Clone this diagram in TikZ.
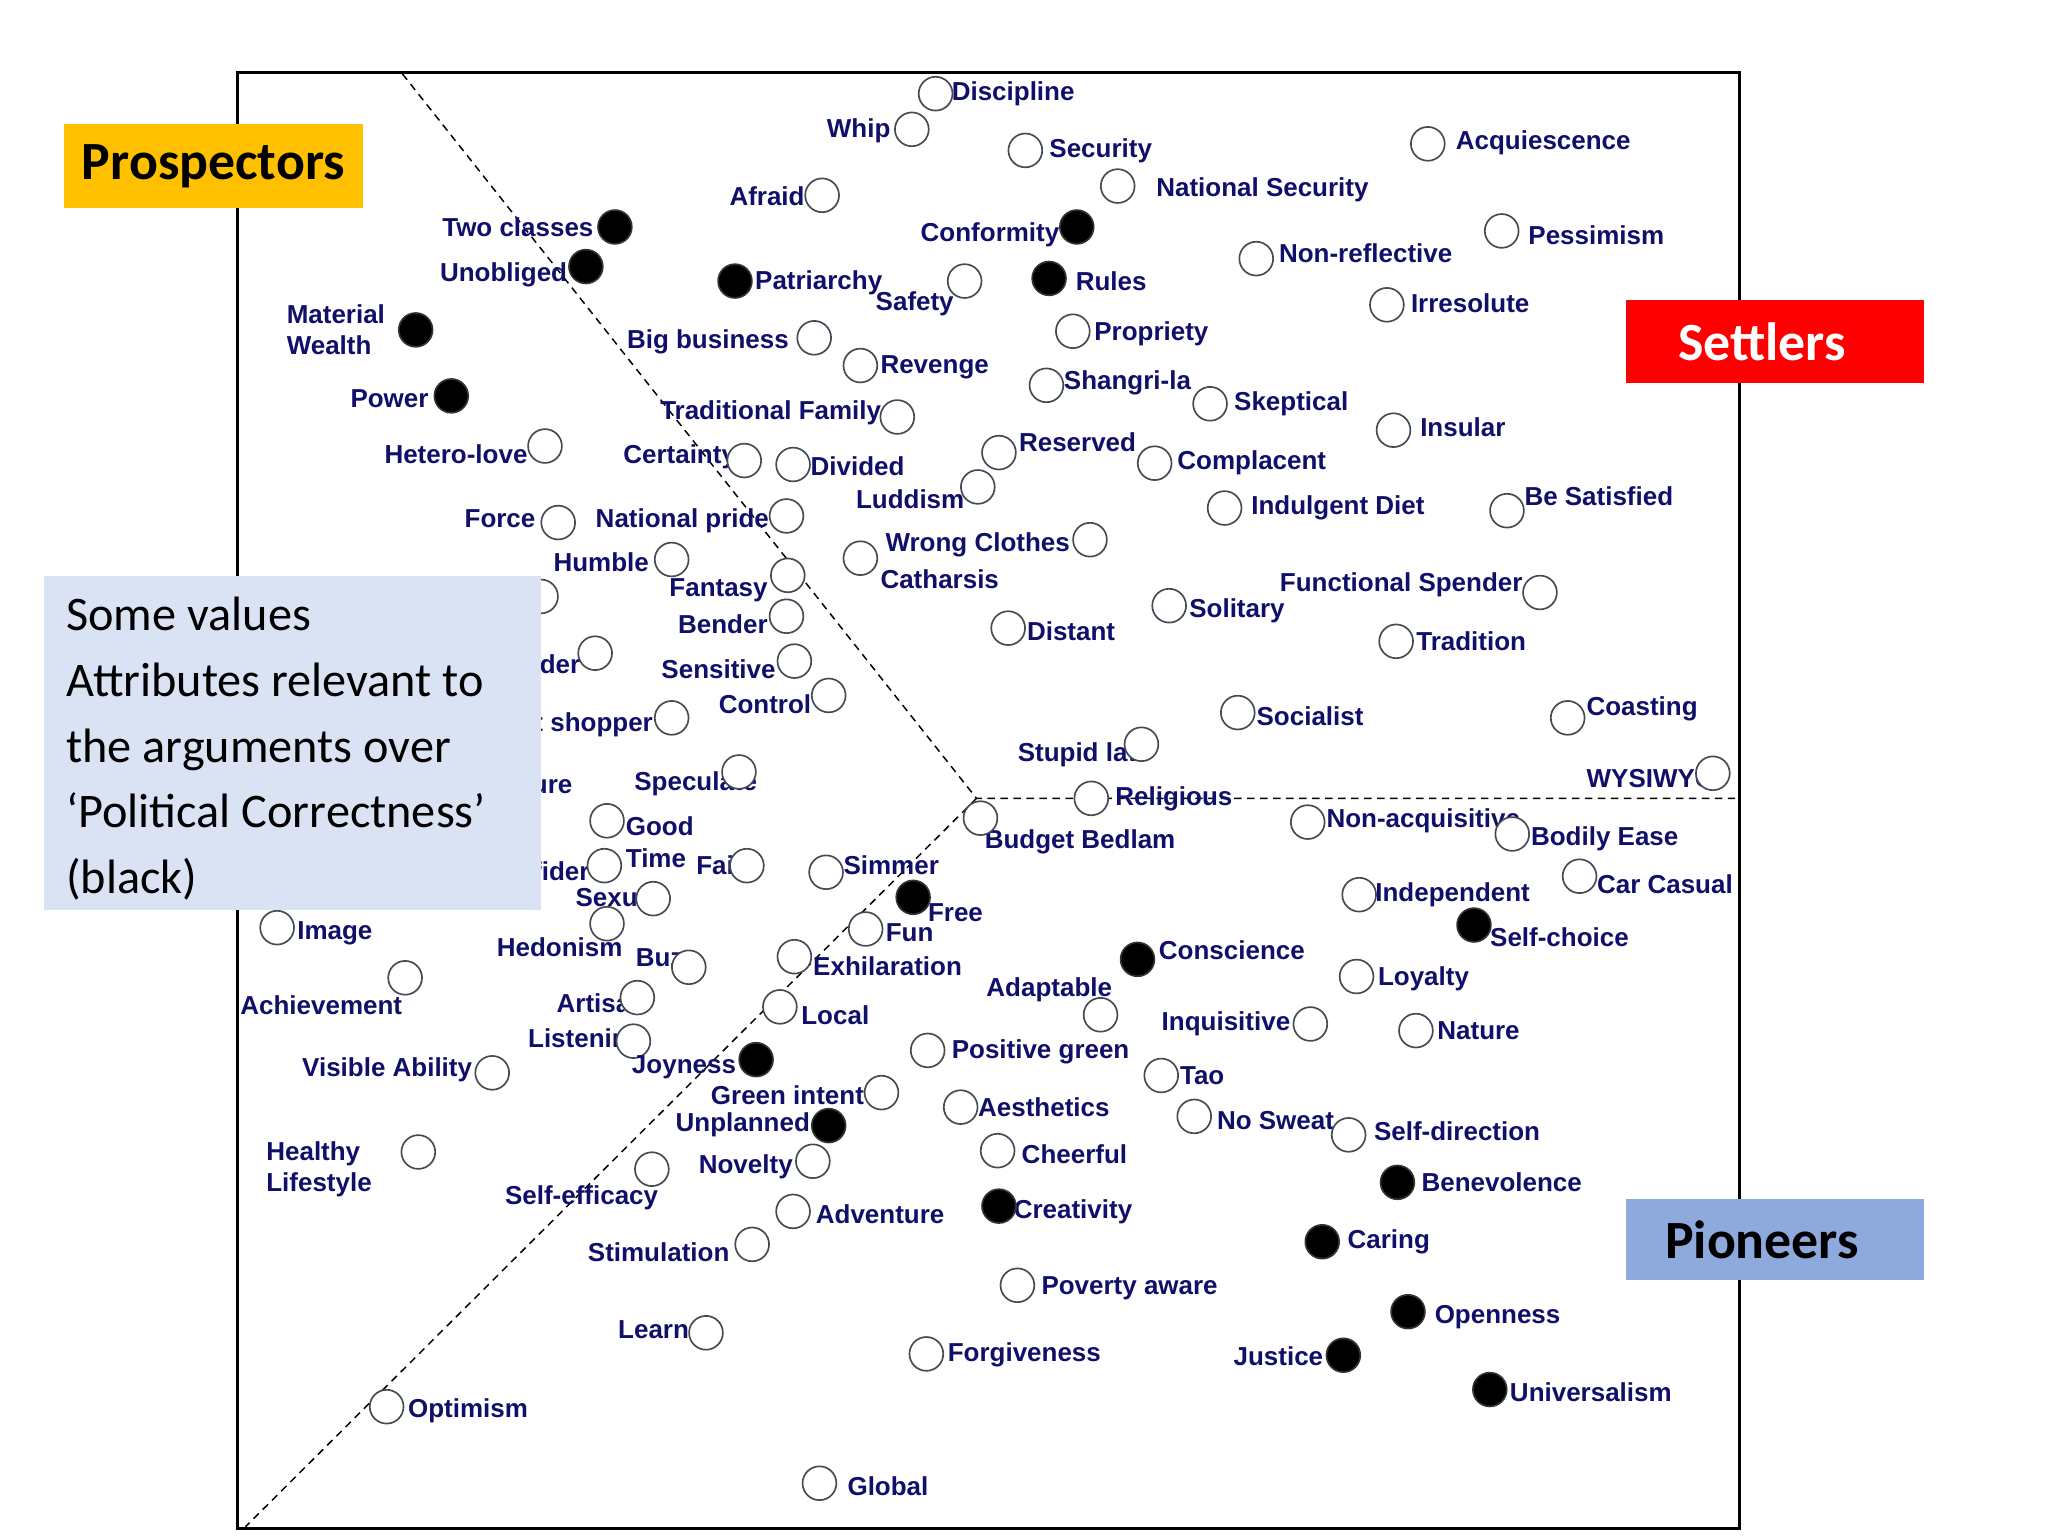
\documentclass[tikz,border=0pt]{standalone}
\usepackage{fontspec}
\setmainfont{Liberation Sans}
\newfontfamily\calfont{Carlito}
\definecolor{navy}{HTML}{10106A}
\definecolor{ring}{HTML}{454A55}
\definecolor{prosp}{HTML}{FFC000}
\definecolor{settl}{HTML}{FF0000}
\definecolor{pion}{HTML}{8EA9DB}
\definecolor{note}{HTML}{DAE3F3}
\tikzset{
  lab/.style={font=\fontsize{14}{16.5}\selectfont\bfseries, text=navy, inner sep=0pt},
  val/.style={circle, draw=ring, line width=0.9pt, fill=white, minimum size=0.64cm, inner sep=0pt},
  o/.style={val},
  f/.style={val, fill=black, draw=black!80},
  div/.style={dashed, line width=0.8pt, dash pattern=on 4pt off 3pt},
  tag/.style={font=\calfont\fontsize{29}{30}\selectfont\bfseries, inner sep=0pt, anchor=center}
}
% name, cx, cy, style, label options, lx, ly, text
\newcommand\V[8]{%
  \node[lab,#5] (#1-l) at (#6,#7) {#8};
  \node[#4] (#1) at (#2,#3) {};}
\begin{document}
\begin{tikzpicture}[x=0.025cm,y=-0.025cm]
\useasboundingbox[fill=white] (0,0) rectangle (1552,1164);
% frame
\draw[line width=1.6pt] (180,55) rectangle (1318,1158);
\coordinate (ctr) at (740,605);
\coordinate (top) at (305,56);
\coordinate (rgt) at (1316,605);
\coordinate (bot) at (186,1157);
\draw[div] (top) -- (ctr) -- (rgt);
\draw[div] (ctr) -- (bot);

\V{discipline}{709}{71}{o}{anchor=west}{721}{71}{Discipline}
\V{whip}{691}{98}{o}{anchor=east}{675}{99}{Whip}
\V{security}{777}{114}{o}{anchor=west}{795}{114}{Security}
\V{acq}{1082}{109}{o}{anchor=west}{1103}{108}{Acquiescence}
\V{afraid}{623}{148}{o}{anchor=east}{610}{149}{Afraid}
\V{natsec}{847}{141}{o}{anchor=west}{876}{144}{National Security}
\V{twocl}{466}{172}{f}{anchor=east}{450}{172}{Two classes}
\V{conf}{816}{172}{f}{anchor=east}{803}{178}{Conformity}
\V{pess}{1138}{175}{o}{anchor=west}{1158}{178}{Pessimism}
\V{nonref}{952}{196}{o}{anchor=west}{969}{192}{Non-reflective}
\V{unob}{444}{202}{f}{anchor=east}{430}{208}{Unobliged}
\V{patr}{557}{213}{f}{anchor=west}{572}{214}{Patriarchy}
\V{safety}{731}{213}{o}{anchor=east}{723}{230}{Safety}
\V{rules}{795}{211}{f}{anchor=west}{815}{213}{Rules}
\V{matw}{315}{250}{f}{anchor=east,align=left}{292}{250}{Material\\Wealth}
\V{irres}{1051}{231}{o}{anchor=west}{1069}{230}{Irresolute}
\V{bigb}{617}{256}{o}{anchor=east}{598}{259}{Big business}
\V{prop}{813}{251}{o}{anchor=west}{829}{253}{Propriety}
\V{rev}{652}{277}{o}{anchor=west}{667}{278}{Revenge}
\V{shang}{793}{292}{o}{anchor=west}{806}{290}{Shangri-la}
\V{power}{342}{300}{f}{anchor=east}{325}{302}{Power}
\V{skep}{917}{306}{o}{anchor=west}{935}{306}{Skeptical}
\V{tradf}{680}{316}{o}{anchor=east}{668}{313}{Traditional Family}
\V{insular}{1056}{326}{o}{anchor=west}{1076}{324}{Insular}
\V{reserved}{757}{343}{o}{anchor=west}{772}{335}{Reserved}
\V{hetero}{413}{338}{o}{anchor=east}{400}{344}{Hetero-love}
\V{cert}{564}{349}{o}{anchor=east}{558}{346}{Certainty}
\V{divided}{601}{352}{o}{anchor=west}{614}{353}{Divided}
\V{compl}{875}{351}{o}{anchor=west}{892}{351}{Complacent}
\V{ludd}{741}{369}{o}{anchor=east}{731}{378}{Luddism}
\V{besat}{1142}{387}{o}{anchor=west}{1155}{376}{Be Satisfied}
\V{indul}{928}{385}{o}{anchor=west}{948}{385}{Indulgent Diet}
\V{force}{423}{396}{o}{anchor=east}{406}{393}{Force}
\V{natpr}{596}{391}{o}{anchor=east}{583}{395}{National pride}
\V{wrong}{826}{409}{o}{anchor=east}{811}{413}{Wrong Clothes}
\V{humble}{509}{424}{o}{anchor=east}{492}{426}{Humble}
\V{cath}{652}{423}{o}{anchor=west}{667}{439}{Catharsis}
\V{fant}{597}{436}{o}{anchor=east}{582}{447}{Fantasy}
\V{funcs}{1167}{449}{o}{anchor=east}{1154}{443}{Functional Spender}
\V{solit}{886}{459}{o}{anchor=west}{901}{463}{Solitary}
\V{bender}{596}{467}{o}{anchor=east}{582}{473}{Bender}
\V{distant}{764}{476}{o}{anchor=west}{778}{478}{Distant}
\V{trad}{1058}{486}{o}{anchor=west}{1073}{486}{Tradition}
\V{provider}{451}{495}{o}{anchor=east}{440}{503}{Provider}
\V{sens}{602}{501}{o}{anchor=east}{588}{507}{Sensitive}
\V{control}{628}{527}{o}{anchor=east}{615}{534}{Control}
\V{social}{938}{540}{o}{anchor=west}{952}{543}{Socialist}
\V{coast}{1188}{544}{o}{anchor=west}{1202}{537}{Coasting}
\V{shopper}{509}{544}{o}{anchor=east}{495}{549}{Smart shopper}
\V{stupid}{865}{564}{o}{anchor=east}{870}{572}{Stupid law}
\node[lab,anchor=east] (leisure) at (434,594) {Leisure};
\V{spec}{560}{585}{o}{anchor=east}{574}{594}{Speculate}
\V{wysiwyg}{1298}{586}{o}{anchor=east}{1300}{590}{WYSIWYG}
\V{relig}{827}{605}{o}{anchor=west}{845}{605}{Religious}
\V{good}{460}{622}{o}{anchor=west}{474}{626}{Good}
\V{budget}{743}{620}{o}{anchor=west}{746}{638}{Budget Bedlam}
\V{nonacq}{991}{623}{o}{anchor=west}{1005}{622}{Non-acquisitive}
\V{bodily}{1146}{632}{o}{anchor=west}{1160}{636}{Bodily Ease}
\node[lab,anchor=east] (confider) at (447,660) {Confider};
\V{time}{458}{656}{o}{anchor=west}{474}{650}{Time}
\V{faith}{566}{656}{o}{anchor=east}{575}{656}{Faith}
\V{simmer}{626}{661}{o}{anchor=west}{639}{656}{Simmer}
\V{free}{692}{680}{f}{anchor=west}{703}{692}{Free}
\V{sexual}{495}{681}{o}{anchor=east}{500}{680}{Sexual}
\V{indep}{1030}{678}{o}{anchor=west}{1042}{678}{Independent}
\V{carcas}{1197}{664}{o}{anchor=west}{1210}{670}{Car Casual}
\V{image}{210}{703}{o}{anchor=west}{225}{707}{Image}
\V{fun}{656}{704}{o}{anchor=west}{671}{707}{Fun}
\V{hedon}{460}{700}{o}{anchor=east}{472}{718}{Hedonism}
\V{buzz}{522}{733}{o}{anchor=east}{528}{726}{Buzz}
\V{selfch}{1117}{701}{f}{anchor=west}{1129}{710}{Self-choice}
\V{consc}{862}{727}{f}{anchor=west}{878}{720}{Conscience}
\V{exhil}{602}{725}{o}{anchor=west}{616}{732}{Exhilaration}
\V{achiev}{307}{741}{o}{anchor=east}{305}{762}{Achievement}
\V{loyal}{1028}{740}{o}{anchor=west}{1044}{742}{Loyalty}
\V{adapt}{834}{769}{o}{anchor=east}{843}{750}{Adaptable}
\V{artisan}{483}{756}{o}{anchor=east}{490}{760}{Artisan}
\V{local}{591}{763}{o}{anchor=west}{607}{769}{Local}
\V{inquis}{993}{776}{o}{anchor=east}{978}{776}{Inquisitive}
\V{nature}{1073}{781}{o}{anchor=west}{1089}{781}{Nature}
\V{listen}{480}{789}{o}{anchor=east}{488}{789}{Listening}
\V{posgr}{703}{796}{o}{anchor=west}{721}{797}{Positive green}
\V{joy}{573}{803}{f}{anchor=east}{558}{809}{Joyness}
\V{visab}{373}{813}{o}{anchor=east}{358}{811}{Visible Ability}
\V{tao}{880}{815}{o}{anchor=west}{894}{815}{Tao}
\V{greenint}{668}{828}{o}{anchor=east}{655}{830}{Green intent}
\V{aesth}{728}{839}{o}{anchor=west}{741}{839}{Aesthetics}
\V{nosweat}{905}{846}{o}{anchor=west}{922}{849}{No Sweat}
\V{unpl}{628}{853}{f}{anchor=east}{614}{852}{Unplanned}
\V{selfdir}{1022}{860}{o}{anchor=west}{1041}{857}{Self-direction}
\V{healthy}{317}{873}{o}{anchor=east,align=left}{282}{886}{Healthy\\Lifestyle}
\V{cheer}{756}{872}{o}{anchor=west}{774}{875}{Cheerful}
\V{novelty}{616}{880}{o}{anchor=east}{601}{884}{Novelty}
\V{selfeff}{494}{886}{o}{anchor=east}{499}{908}{Self-efficacy}
\V{benev}{1059}{896}{f}{anchor=west}{1077}{896}{Benevolence}
\V{advent}{601}{918}{o}{anchor=west}{618}{920}{Adventure}
\V{creat}{757}{914}{f}{anchor=west}{768}{918}{Creativity}
\V{caring}{1002}{941}{f}{anchor=west}{1021}{941}{Caring}
\V{stim}{570}{943}{o}{anchor=east}{553}{949}{Stimulation}
\V{poverty}{771}{974}{o}{anchor=west}{789}{976}{Poverty aware}
\V{open}{1067}{994}{f}{anchor=west}{1087}{998}{Openness}
\V{learner}{535}{1010}{o}{anchor=east}{541}{1008}{Learner}
\V{forgive}{702}{1026}{o}{anchor=west}{718}{1027}{Forgiveness}
\V{justice}{1018}{1027}{f}{anchor=east}{1003}{1028}{Justice}
\V{univ}{1129}{1053}{f}{anchor=west}{1144}{1055}{Universalism}
\V{optim}{293}{1066}{o}{anchor=west}{309}{1069}{Optimism}
\V{global}{621}{1124}{o}{anchor=west}{642}{1126}{Global}
\node[o] (hidden) at (410,452) {};

% note box
\node[fill=note, minimum width=377*0.025cm, minimum height=253*0.025cm, anchor=north west, inner sep=0pt] (notebox) at (33,436) {};
\node[anchor=north west, align=left, inner sep=0pt, font=\calfont\fontsize{26}{35.5}\selectfont] (notetext) at (50,452)
 {Some values\\Attributes relevant to\\the arguments over\\‘Political Correctness’\\(black)};

% tags
\node[fill=prosp, minimum width=227*0.025cm, minimum height=63*0.025cm, anchor=north west, inner sep=0pt] (pbox) at (48,94) {};
\node[tag] (ptxt) at (pbox.center) {Prospectors};
\node[fill=settl, minimum width=226*0.025cm, minimum height=63*0.025cm, anchor=north west, inner sep=0pt] (sbox) at (1232,227) {};
\node[tag,text=white] (stxt) at ([xshift=-0.25cm]sbox.center) {Settlers};
\node[fill=pion, minimum width=226*0.025cm, minimum height=62*0.025cm, anchor=north west, inner sep=0pt] (pibox) at (1232,908) {};
\node[tag] (pitxt) at ([xshift=-0.25cm]pibox.center) {Pioneers};
\end{tikzpicture}
\end{document}
